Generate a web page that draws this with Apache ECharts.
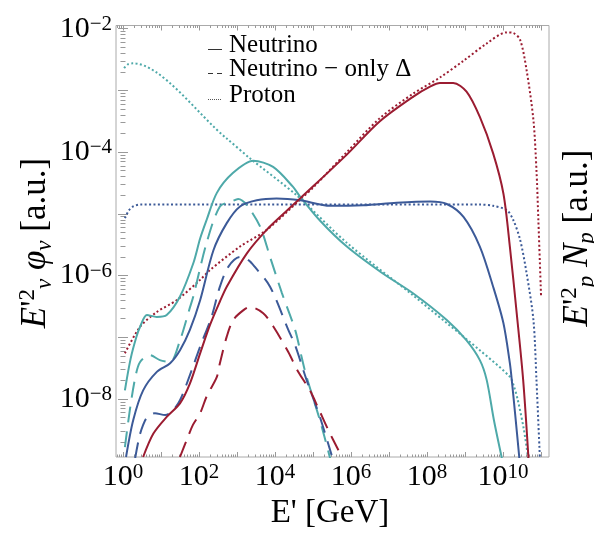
<!DOCTYPE html>
<html><head><meta charset="utf-8">
<script src="https://cdn.jsdelivr.net/npm/echarts@6/dist/echarts.min.js"></script>
<style>html,body{margin:0;padding:0;background:#fff}#c{width:594px;height:536px}</style>
</head><body><div id="c"></div>
<script>
// All values are log10: [log10(E'/GeV), log10(E'^2 flux)]
const xLabelExps = [0, 2, 4, 6, 8, 10];
const yLabelExps = [-8, -6, -4, -2];

const tealNu = [[0.05,-7.86],[0.2,-7.35],[0.35,-7.0],[0.45,-6.83],[0.63,-6.64],[0.89,-6.67],[1.15,-6.64],[1.5,-6.34],[1.85,-5.80],[2.03,-5.40],[2.2,-5.10],[2.47,-4.66],[2.89,-4.34],[3.43,-4.14],[3.95,-4.24],[4.47,-4.56],[4.66,-4.72],[5.2,-5.12],[5.89,-5.53],[6.8,-5.95],[7.64,-6.29],[8.52,-6.72],[9.04,-7.05],[9.39,-7.37],[9.57,-7.69],[9.76,-8.34],[9.97,-8.96]];
const tealDelta = [[0.05,-8.78],[0.18,-8.18],[0.32,-7.66],[0.45,-7.40],[0.71,-7.29],[0.97,-7.37],[1.24,-7.40],[1.5,-7.05],[1.76,-6.52],[1.85,-6.34],[2.2,-5.47],[2.55,-4.88],[2.86,-4.80],[3.03,-4.76],[3.26,-4.86],[3.61,-5.21],[3.87,-5.70],[4.18,-6.28],[4.53,-6.88],[4.7,-7.32],[4.83,-7.64],[5.18,-8.34],[5.45,-8.96]];
const tealProton = [[0.03,-2.64],[0.12,-2.58],[0.26,-2.56],[2.73,-3.78],[3.34,-4.10],[4.57,-4.70],[5.89,-5.47],[7.63,-6.32],[8.52,-6.77],[9.39,-7.21],[10.18,-7.64],[10.28,-7.78],[10.39,-8.02],[10.55,-8.5],[10.66,-8.96]];

const blueNu = [[0.08,-8.94],[0.27,-8.34],[0.53,-7.86],[0.89,-7.56],[1.24,-7.42],[1.5,-7.21],[1.76,-6.88],[2.03,-6.40],[2.38,-5.59],[2.73,-5.15],[3.08,-4.88],[3.52,-4.78],[4.04,-4.75],[4.66,-4.78],[5.45,-4.87],[6.32,-4.86],[7.20,-4.82],[8.08,-4.80],[8.52,-4.84],[8.96,-5.05],[9.39,-5.53],[9.74,-6.18],[10.01,-6.77],[10.18,-7.42],[10.23,-7.69],[10.32,-8.25],[10.43,-8.96]];
const blueDelta = [[0.32,-8.96],[0.43,-8.61],[0.53,-8.42],[0.62,-8.31],[0.84,-8.23],[1.11,-8.26],[1.28,-8.21],[1.5,-8.02],[1.81,-7.53],[2.03,-7.15],[2.33,-6.67],[2.55,-6.18],[2.77,-5.86],[3.08,-5.70],[3.30,-5.75],[3.47,-5.86],[3.87,-6.18],[4.35,-6.88],[4.53,-7.13],[4.83,-7.69],[5.18,-8.29],[5.49,-8.91]];
const blueProton = [[0.05,-5.07],[0.16,-4.94],[0.27,-4.88],[0.45,-4.85],[3,-4.85],[6,-4.85],[9.39,-4.85],[9.74,-4.87],[10.1,-4.94],[10.27,-5.10],[10.45,-5.42],[10.62,-5.96],[10.80,-6.72],[10.88,-7.69],[10.97,-8.96]];

const redNu = [[0.53,-8.94],[0.80,-8.56],[1.15,-8.29],[1.5,-8.07],[1.76,-7.75],[2.03,-7.26],[2.29,-6.80],[2.55,-6.42],[2.73,-6.18],[3.26,-5.64],[3.78,-5.26],[4.31,-4.95],[4.66,-4.75],[5.89,-4.04],[6.76,-3.50],[7.64,-3.10],[8.08,-2.94],[8.34,-2.88],[8.69,-2.88],[9.04,-3.02],[9.39,-3.43],[9.74,-4.02],[10.01,-4.67],[10.18,-5.53],[10.36,-6.61],[10.53,-7.69],[10.67,-8.96]];
const redDelta = [[1.5,-8.94],[1.68,-8.66],[1.84,-8.42],[2.03,-8.23],[2.2,-7.96],[2.47,-7.64],[2.55,-7.42],[2.73,-6.99],[2.9,-6.72],[3.17,-6.56],[3.34,-6.51],[3.69,-6.61],[3.96,-6.83],[4.35,-7.24],[4.61,-7.56],[4.92,-7.86],[5.14,-8.15],[5.40,-8.50],[5.67,-8.83]];
const redProton = [[0.05,-7.26],[0.45,-6.83],[0.89,-6.59],[1.41,-6.40],[2.03,-6.07],[2.29,-5.91],[3.08,-5.53],[3.78,-5.26],[4.66,-4.77],[5.01,-4.57],[5.89,-4.00],[6.76,-3.45],[7.64,-3.05],[8.34,-2.79],[8.96,-2.52],[9.57,-2.24],[10.10,-2.06],[10.27,-2.07],[10.45,-2.18],[10.62,-2.67],[10.80,-3.48],[10.88,-4.29],[10.93,-5.10],[11.0,-6.32]];

const X_MIN = -0.184, X_MAX = 11.21, Y_MIN = -8.94, Y_MAX = -1.948;
const TEAL = '#4ea9a9', BLUE = '#3c5a98', RED = '#9b1c31';
const SERIF = '"Liberation Serif", "DejaVu Serif", serif';

function majors(a, b) { const r = []; for (let n = Math.ceil(a); n <= b; n++) r.push(n); return r; }
function minors(a, b) { const r = []; for (let n = Math.floor(a) - 1; n <= b; n++) for (let k = 2; k <= 9; k++) { const v = n + Math.log10(k); if (v > a && v < b) r.push(v); } return r; }
function expStr(v) { const n = Math.round(v); return n < 0 ? '\u2212' + (-n) : String(n); }

const richLab = {
  b: { fontFamily: SERIF, fontSize: 30, lineHeight: 30, verticalAlign: 'bottom', color: '#000' },
  s: { fontFamily: SERIF, fontSize: 21, lineHeight: 21, verticalAlign: 'top', padding: [0, 0, 12, 0], color: '#000' }
};
const tickColor = '#999';

function xAx(pos, vals, len, withLabels) {
  return {
    type: 'value', min: X_MIN, max: X_MAX, position: pos, gridIndex: 0,
    axisLine: { show: false }, splitLine: { show: false },
    axisTick: { show: true, inside: true, length: len, customValues: vals, lineStyle: { color: tickColor, width: 1 } },
    axisLabel: withLabels ? { show: true, customValues: xLabelExps, margin: 5, formatter: v => '{b|10}{s|' + expStr(v) + '}', rich: richLab } : { show: false }
  };
}
function yAx(pos, vals, len, withLabels) {
  return {
    type: 'value', min: Y_MIN, max: Y_MAX, position: pos, gridIndex: 0,
    axisLine: { show: false }, splitLine: { show: false },
    axisTick: { show: true, inside: true, length: len, customValues: vals, lineStyle: { color: tickColor, width: 1 } },
    axisLabel: withLabels ? { show: true, customValues: yLabelExps, margin: 4, formatter: v => '{b|10}{s|' + expStr(v) + '}', rich: richLab } : { show: false }
  };
}

const xMaj = majors(X_MIN, X_MAX), xMin = minors(X_MIN, X_MAX);
const yMaj = majors(Y_MIN, Y_MAX), yMin = minors(Y_MIN, Y_MAX);

function ser(data, color, type) {
  return {
    type: 'line', data: data, xAxisIndex: 0, yAxisIndex: 0, showSymbol: false, symbol: 'none',
    smooth: 0.3, clip: true, silent: true,
    lineStyle: { color: color, width: 2, type: type, cap: 'butt' }
  };
}
const DOT = [2, 2.4], DASH = [16, 9];

const titleRich = {
  e: { fontFamily: SERIF, fontStyle: 'italic', fontSize: 35, lineHeight: 40, verticalAlign: 'middle', color: '#000' },
  r: { fontFamily: SERIF, fontSize: 35, lineHeight: 40, verticalAlign: 'middle', color: '#000' },
  sup: { fontFamily: SERIF, fontSize: 23, lineHeight: 30, verticalAlign: 'top', color: '#000' },
  sub: { fontFamily: SERIF, fontStyle: 'italic', fontSize: 23, lineHeight: 20, verticalAlign: 'bottom', color: '#000' }
};

const chart = echarts.init(document.getElementById('c'), null, { renderer: 'canvas' });
chart.setOption({
  animation: false,
  backgroundColor: '#fff',
  grid: { left: 116, top: 25.5, width: 433, height: 431.5, show: true, borderColor: '#aaa', borderWidth: 1, backgroundColor: 'transparent' },
  xAxis: [xAx('bottom', xMaj, 5, true), xAx('bottom', xMin, 2.5, false), xAx('top', xMaj, 5, false), xAx('top', xMin, 2.5, false)],
  yAxis: [yAx('left', yMaj, 5, true), yAx('left', yMin, 2.5, false), yAx('right', yMaj, 5, false), yAx('right', yMin, 2.5, false)],
  series: [
    ser(tealProton, TEAL, DOT), ser(blueProton, BLUE, DOT), ser(redProton, RED, DOT),
    ser(tealDelta, TEAL, DASH), ser(blueDelta, BLUE, DASH), ser(redDelta, RED, DASH),
    ser(tealNu, TEAL, 'solid'), ser(blueNu, BLUE, 'solid'), ser(redNu, RED, 'solid')
  ],
  graphic: [
    { type: 'text', x: 36, y: 243, rotation: Math.PI / 2, silent: true,
      style: { text: "{e|E}{r|'}{sup|2}{sub|\u03bd}{r| }{e|\u03c6}{sub|\u03bd}{r| }{r|[a.u.]}", rich: titleRich, align: 'center', verticalAlign: 'middle' } },
    { type: 'text', x: 578, y: 238, rotation: Math.PI / 2, silent: true,
      style: { text: "{e|E}{r|'}{sup|2}{sub|p}{r| }{e|N}{sub|p}{r| }{r|[a.u.]}", rich: titleRich, align: 'center', verticalAlign: 'middle' } },
    { type: 'text', x: 330, y: 513, silent: true,
      style: { text: "E' [GeV]", fontFamily: SERIF, fontSize: 33, fill: '#000', align: 'center', verticalAlign: 'middle' } },
    { type: 'line', silent: true, shape: { x1: 208, y1: 49.5, x2: 222, y2: 49.5 }, style: { stroke: '#333', lineWidth: 1 } },
    { type: 'line', silent: true, shape: { x1: 208, y1: 73.5, x2: 222, y2: 73.5 }, style: { stroke: '#333', lineWidth: 1, lineDash: [5, 4] } },
    { type: 'line', silent: true, shape: { x1: 208, y1: 99.5, x2: 222, y2: 99.5 }, style: { stroke: '#555', lineWidth: 1, lineDash: [1, 1] } },
    { type: 'text', x: 229, y: 45, silent: true, style: { text: 'Neutrino', fontFamily: SERIF, fontSize: 25, fill: '#000', align: 'left', verticalAlign: 'middle' } },
    { type: 'text', x: 229, y: 69, silent: true, style: { text: 'Neutrino \u2212 only \u0394', fontFamily: SERIF, fontSize: 25, fill: '#000', align: 'left', verticalAlign: 'middle' } },
    { type: 'text', x: 229, y: 95, silent: true, style: { text: 'Proton', fontFamily: SERIF, fontSize: 25, fill: '#000', align: 'left', verticalAlign: 'middle' } }
  ]
});
</script>
</body></html>
